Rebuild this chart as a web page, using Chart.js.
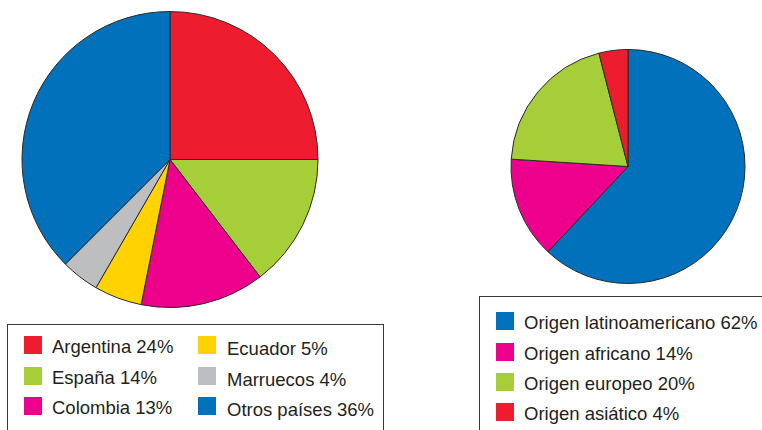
<!DOCTYPE html>
<html>
<head>
<meta charset="utf-8">
<script src="https://cdn.jsdelivr.net/npm/chart.js@4"></script>
<style>
  html, body { margin: 0; padding: 0; background: #fff; }
  body { width: 762px; height: 430px; position: relative; overflow: hidden;
         font-family: "Liberation Sans", Arial, Helvetica, sans-serif; color: #231f20; }
  canvas { position: absolute; }
  .box { position: absolute; border: 1.5px solid #3a3a3a; box-sizing: border-box; background: #fff; }
  .item { position: absolute; height: 18px; display: flex; align-items: center; white-space: nowrap; }
  .sw { width: 18px; height: 18px; flex: none; }
  .tx { font-size: 18.5px; position: relative; top: 2px; }
</style>
</head>
<body>
<canvas id="c1" width="340" height="319" style="left:0;top:0"></canvas>
<canvas id="c2" width="260" height="261" style="left:498px;top:36px"></canvas>
<div class="box" id="box1" style="left:7px;top:324px;width:377px;height:130px"></div>
<div class="box" id="box2" style="left:479px;top:296px;width:300px;height:160px"></div>
<div id="leg1"></div>
<div id="leg2"></div>
<script>
// Left chart: country of origin
const countryLabels = ["Argentina", "España", "Colombia", "Ecuador", "Marruecos", "Otros países"];
const countryValues = [24, 14, 13, 5, 4, 36];
const countryColors = ["#ED1C2E", "#A6CE39", "#EC008C", "#FFD200", "#BCBEC0", "#0071BA"];

// Right chart: origin groups
const originLabels = ["Origen latinoamericano", "Origen africano", "Origen europeo", "Origen asiático"];
const originValues = [62, 14, 20, 4];
const originColors = ["#0071BA", "#EC008C", "#A6CE39", "#ED1C2E"];

function pieConfig(labels, values, colors, radius) {
  return {
    type: 'pie',
    data: {
      labels: labels,
      datasets: [{
        data: values,
        backgroundColor: colors,
        borderColor: '#2a2a2a',
        borderWidth: 1,
        hoverOffset: 0
      }]
    },
    options: {
      responsive: false,
      animation: false,
      radius: radius,
      layout: { padding: 0 },
      events: [],
      plugins: { legend: { display: false }, tooltip: { enabled: false } }
    }
  };
}

new Chart(document.getElementById('c1'), pieConfig(countryLabels, countryValues, countryColors, 148));
new Chart(document.getElementById('c2'), pieConfig(originLabels, originValues, originColors, 117));

function buildLegend(containerId, labels, values, colors, pos) {
  const cont = document.getElementById(containerId);
  labels.forEach((lab, i) => {
    const p = pos(i);
    const it = document.createElement('div');
    it.className = 'item';
    it.style.left = p.x + 'px';
    it.style.top = p.y + 'px';
    const sw = document.createElement('div');
    sw.className = 'sw';
    sw.style.background = colors[i];
    const tx = document.createElement('span');
    tx.className = 'tx';
    tx.style.marginLeft = p.gap + 'px';
    tx.style.top = p.dy + 'px';
    tx.textContent = lab + ' ' + values[i] + '%';
    it.appendChild(sw);
    it.appendChild(tx);
    cont.appendChild(it);
  });
}

buildLegend('leg1', countryLabels, countryValues, countryColors, i => ({
  x: i < 3 ? 24 : 198,
  y: 336 + (i % 3) * 30.6,
  gap: i < 3 ? 10 : 11,
  dy: i < 3 ? 2 : 4
}));
buildLegend('leg2', originLabels, originValues, originColors, i => ({
  x: 496,
  y: 312.3 + i * 30.3,
  gap: 10,
  dy: 2
}));
</script>
</body>
</html>
